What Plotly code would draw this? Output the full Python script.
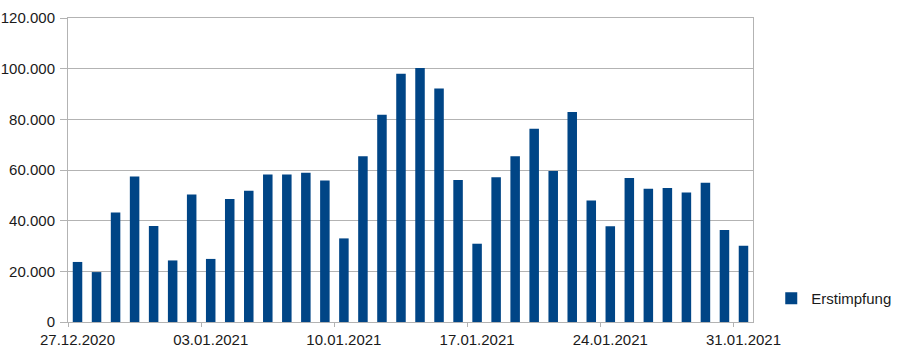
import pandas as pd
import plotly.graph_objects as go

start_date = "2020-12-27"
values = [23700, 19700, 43200, 57400, 37900, 24300, 50300, 24900, 48600, 51800,
          58200, 58200, 58900, 55900, 33000, 65400, 81800, 98000, 100300, 92200,
          56100, 30900, 57100, 65400, 76300, 59600, 82900, 48000, 37800, 56800,
          52600, 52900, 51100, 55000, 36300, 30100]
series_name = "Erstimpfung"
label_dates = ["2020-12-27", "2021-01-03", "2021-01-10", "2021-01-17", "2021-01-24", "2021-01-31"]
y_ticks = [0, 20000, 40000, 60000, 80000, 100000, 120000]

dates = pd.date_range(start_date, periods=len(values), freq="D")

grid = "#b3b3b3"
font = dict(family="Liberation Sans, Arial, sans-serif", size=15, color="#1a1a1a")

fig = go.Figure(go.Bar(x=dates, y=values, name=series_name, marker_color="#004586",
                       marker_line_width=0, showlegend=True))

half = pd.Timedelta(hours=12)
fig.update_layout(
    width=901, height=352,
    margin=dict(l=68, r=148, t=18, b=30, autoexpand=False),
    plot_bgcolor="white", paper_bgcolor="white",
    font=font,
    bargap=0.5,
    separators=",.",
    showlegend=True,
    legend=dict(xref="container", yref="container", x=0.856, y=0.152,
                xanchor="left", yanchor="middle",
                font=font, bgcolor="rgba(0,0,0,0)"),
    xaxis=dict(
        type="date",
        automargin=False,
        range=[dates[0] - half, dates[-1] + half],
        tickvals=pd.to_datetime(label_dates),
        tickformat="%d.%m.%Y",
        ticks="",
        showgrid=False,
        showline=True, linecolor=grid, linewidth=1, mirror=True,
        minor=dict(ticks="outside", ticklen=4, tickcolor=grid, tickwidth=1,
                   tick0=(pd.Timestamp(label_dates[0]) - half), dtick=7 * 86400000,
                   showgrid=False),
        ticklabelstandoff=4,
        zeroline=False,
    ),
    yaxis=dict(
        automargin=False,
        range=[0, 120000],
        tickvals=y_ticks,
        tickformat=",d",
        ticks="outside", ticklen=7, tickcolor=grid,
        showgrid=True, gridcolor=grid, gridwidth=1,
        showline=True, linecolor=grid, linewidth=1, mirror=True,
        zeroline=False,
        ticklabelstandoff=2,
    ),
)

fig.write_html("out.html")
